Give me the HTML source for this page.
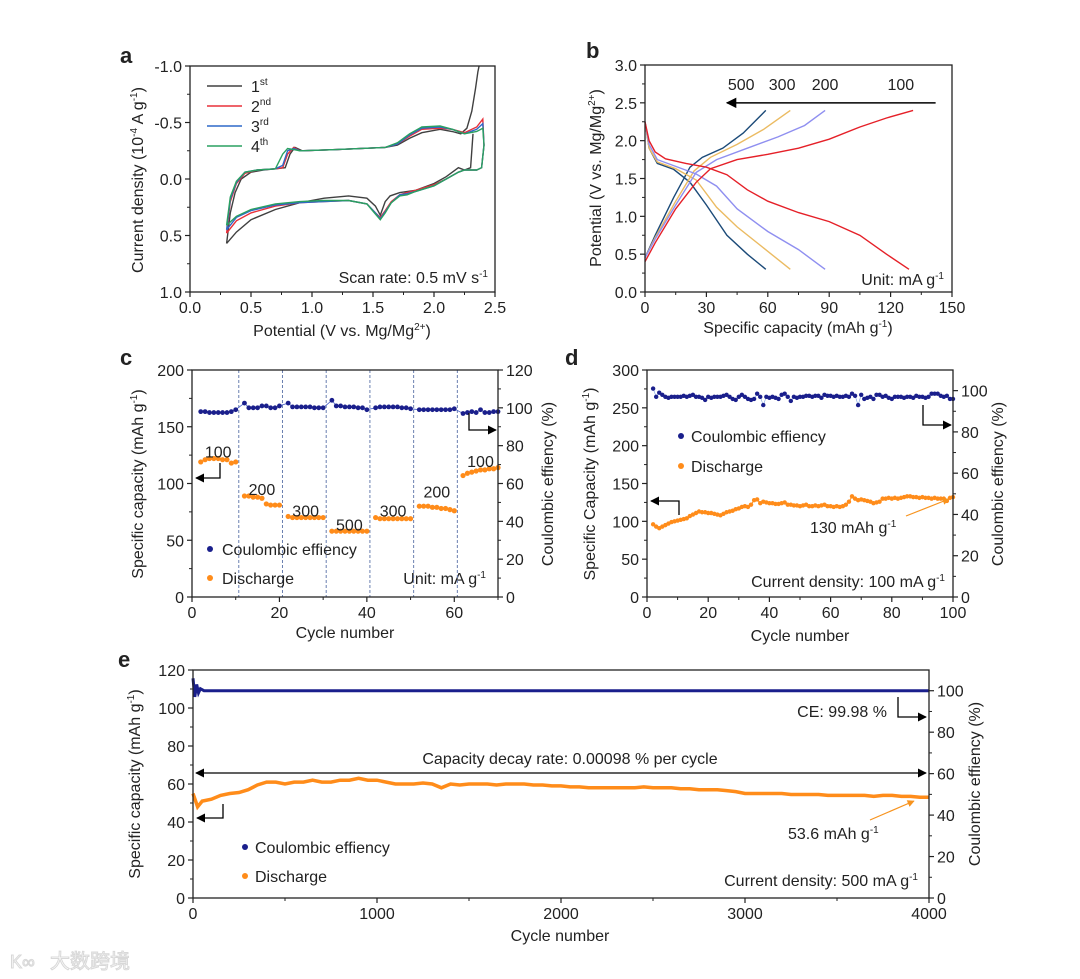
<!DOCTYPE html>
<html><head><meta charset="utf-8"><style>
html,body{margin:0;padding:0;background:#fff;}
svg{display:block;font-family:"Liberation Sans","Noto Sans CJK SC",sans-serif;}
</style></head><body>
<svg id="fig" width="1080" height="979" viewBox="0 0 1080 979" xmlns="http://www.w3.org/2000/svg">
<defs>
<marker id="ah" viewBox="0 0 10 10" refX="9" refY="5" markerWidth="7" markerHeight="7" orient="auto-start-reverse"><path d="M0,0L10,5L0,10z" fill="#000"/></marker>
<marker id="ahO" viewBox="0 0 10 10" refX="9" refY="5" markerWidth="6" markerHeight="6" orient="auto"><path d="M0,0L10,5L0,10z" fill="#f7931e"/></marker>
</defs>
<g id="static" font-size="16" fill="#222">
<text x="120" y="63" font-size="22" font-weight="bold">a</text>
<text x="586" y="58" font-size="22" font-weight="bold">b</text>
<text x="120" y="365" font-size="22" font-weight="bold">c</text>
<text x="565" y="365" font-size="22" font-weight="bold">d</text>
<text x="118" y="667" font-size="22" font-weight="bold">e</text>

<text x="342" y="336" text-anchor="middle">Potential (V vs. Mg/Mg<tspan font-size="10" dy="-6">2+</tspan><tspan dy="6">)</tspan></text>
<text transform="translate(143,180) rotate(-90)" text-anchor="middle">Current density (10<tspan font-size="10" dy="-6">-4</tspan><tspan dy="6"> A g</tspan><tspan font-size="10" dy="-6">-1</tspan><tspan dy="6">)</tspan></text>
<text x="488" y="283" text-anchor="end">Scan rate: 0.5 mV s<tspan font-size="10" dy="-6">-1</tspan></text>

<text x="798" y="333" text-anchor="middle">Specific capacity (mAh g<tspan font-size="10" dy="-6">-1</tspan><tspan dy="6">)</tspan></text>
<text transform="translate(601,178) rotate(-90)" text-anchor="middle">Potential (V vs. Mg/Mg<tspan font-size="10" dy="-6">2+</tspan><tspan dy="6">)</tspan></text>
<text x="944" y="285" text-anchor="end">Unit: mA g<tspan font-size="10" dy="-6">-1</tspan></text>

<text x="345" y="638" text-anchor="middle">Cycle number</text>
<text transform="translate(143,484) rotate(-90)" text-anchor="middle">Specific capacity (mAh g<tspan font-size="10" dy="-6">-1</tspan><tspan dy="6">)</tspan></text>
<text transform="translate(553,484) rotate(-90)" text-anchor="middle">Coulombic effiency (%)</text>
<text x="486" y="584" text-anchor="end">Unit: mA g<tspan font-size="10" dy="-6">-1</tspan></text>

<text x="800" y="641" text-anchor="middle">Cycle number</text>
<text transform="translate(595,484) rotate(-90)" text-anchor="middle">Specific Capacity (mAh g<tspan font-size="10" dy="-6">-1</tspan><tspan dy="6">)</tspan></text>
<text transform="translate(1003,484) rotate(-90)" text-anchor="middle">Coulombic effiency (%)</text>
<text x="945" y="587" text-anchor="end">Current density: 100 mA g<tspan font-size="10" dy="-6">-1</tspan></text>
<text x="810" y="533">130 mAh g<tspan font-size="10" dy="-6">-1</tspan></text>

<text x="560" y="941" text-anchor="middle">Cycle number</text>
<text transform="translate(140,784) rotate(-90)" text-anchor="middle">Specific capacity (mAh g<tspan font-size="10" dy="-6">-1</tspan><tspan dy="6">)</tspan></text>
<text transform="translate(980,784) rotate(-90)" text-anchor="middle">Coulombic effiency (%)</text>
<text x="570" y="764" text-anchor="middle">Capacity decay rate: 0.00098 % per cycle</text>
<text x="887" y="717" text-anchor="end">CE: 99.98 %</text>
<text x="788" y="839">53.6 mAh g<tspan font-size="10" dy="-6">-1</tspan></text>
<text x="918" y="886" text-anchor="end">Current density: 500 mA g<tspan font-size="10" dy="-6">-1</tspan></text>

<text x="50" y="968" font-size="20" fill="#fff" stroke="#d8d8d8" stroke-width="1">大数跨境</text>
<text x="10" y="968" font-size="18" fill="#fff" stroke="#d8d8d8" stroke-width="1">K∞</text>
</g>
<g id="dyn"></g>
</svg>
<script>
// ---------- data ----------
// panel a (V, current 1e-4 A/g)
const aCycle1V=[0.3,0.33,0.37,0.42,0.5,0.6,0.7,0.78,0.82,0.86,0.92,1.2,1.6,1.7,1.8,1.9,2.05,2.15,2.22,2.27,2.31,2.34,2.36,2.37];
const aCycle1I=[0.57,0.3,0.12,0.0,-0.06,-0.08,-0.09,-0.1,-0.22,-0.28,-0.25,-0.26,-0.28,-0.3,-0.36,-0.41,-0.44,-0.42,-0.4,-0.45,-0.6,-0.8,-0.95,-1.0];
const aCycle1RetV=[2.32,2.3,2.25,2.2,2.1,2.0,1.85,1.72,1.64,1.6,1.56,1.52,1.45,1.3,1.1,0.9,0.7,0.5,0.38,0.3];
const aCycle1RetI=[-0.4,-0.1,-0.08,-0.1,-0.02,0.04,0.1,0.12,0.15,0.2,0.32,0.24,0.17,0.15,0.17,0.21,0.27,0.36,0.47,0.57];
const aCycleNV=[0.3,0.33,0.38,0.45,0.55,0.7,0.76,0.8,0.85,0.9,1.2,1.6,1.7,1.8,1.9,2.05,2.15,2.25,2.35,2.4,2.41,2.39,2.35,2.25,2.2,2.1,2.0,1.85,1.78,1.72,1.65,1.6,1.56,1.52,1.45,1.3,1.1,0.9,0.7,0.5,0.38,0.3];
const aCycle2I=[0.48,0.2,0.04,-0.05,-0.08,-0.09,-0.1,-0.22,-0.28,-0.25,-0.26,-0.28,-0.31,-0.38,-0.44,-0.45,-0.44,-0.41,-0.46,-0.53,-0.3,-0.1,-0.08,-0.08,-0.06,0.0,0.05,0.1,0.12,0.14,0.2,0.28,0.34,0.3,0.22,0.19,0.2,0.21,0.24,0.3,0.37,0.48];
const aCycle3I=[0.45,0.18,0.03,-0.06,-0.08,-0.09,-0.12,-0.25,-0.27,-0.25,-0.26,-0.28,-0.31,-0.39,-0.45,-0.46,-0.44,-0.4,-0.44,-0.49,-0.3,-0.1,-0.08,-0.08,-0.06,0.0,0.06,0.11,0.13,0.14,0.21,0.29,0.35,0.3,0.22,0.19,0.2,0.21,0.23,0.28,0.34,0.45];
const aCycle4I=[0.41,0.16,0.02,-0.06,-0.08,-0.09,-0.22,-0.27,-0.26,-0.25,-0.26,-0.28,-0.32,-0.4,-0.46,-0.47,-0.44,-0.4,-0.42,-0.45,-0.3,-0.1,-0.08,-0.08,-0.06,0.0,0.06,0.11,0.14,0.15,0.21,0.3,0.36,0.31,0.22,0.19,0.19,0.2,0.22,0.27,0.33,0.41];
const aLegend=["1","2","3","4"];
const aLegendSup=["st","nd","rd","th"];

// panel b
const bRates=["500","300","200","100"];
const bDisQ=[[0,2,6,14,22,30,40,50,59],[0,2,6,15,25,35,45,58,71],[0,2,6,15,25,35,45,60,75,88],[0,2,5,10,20,30,40,50,60,75,90,105,118,129]];
const bDisV=[[2.25,1.9,1.7,1.62,1.45,1.15,0.75,0.5,0.3],[2.25,1.9,1.72,1.63,1.48,1.12,0.86,0.58,0.3],[2.25,1.95,1.75,1.66,1.56,1.4,1.1,0.8,0.56,0.3],[2.25,2.0,1.85,1.76,1.7,1.65,1.55,1.35,1.2,1.05,0.93,0.75,0.5,0.3]];
const bChgQ=[[0,5,14,22,28,38,48,59],[0,5,15,24,32,45,58,71],[0,5,15,25,35,50,65,78,88],[0,5,15,25,32,45,60,75,90,105,118,131]];
const bChgV=[[0.45,0.75,1.25,1.65,1.78,1.9,2.1,2.4],[0.45,0.72,1.2,1.6,1.78,1.95,2.15,2.4],[0.45,0.7,1.15,1.58,1.75,1.9,2.05,2.2,2.4],[0.4,0.65,1.1,1.45,1.63,1.75,1.82,1.9,2.02,2.18,2.3,2.4]];
const bLabelQ=[47,67,88,125];

// panel c
const cCycles=[2,3,4,5,6,7,8,9,10,12,13,14,15,16,17,18,19,20,22,23,24,25,26,27,28,29,30,32,33,34,35,36,37,38,39,40,42,43,44,45,46,47,48,49,50,52,53,54,55,56,57,58,59,60,62,63,64,65,66,67,68,69,70];
const cDischarge=[119,121,122,122,122,121,121,118,119,89,89,88,88,87,82,81,81,81,71,70,70,70,70,70,70,70,70,58,58,58,58,58,58,58,58,58,70,69,69,69,69,69,69,69,69,80,80,80,79,79,78,78,77,76,107,109,110,111,112,112,113,113,114];
const cCE=[98,98,97.5,97.5,97.5,97.5,97.5,98,99,102.5,100,100,100,101,101,100,100,101,102.5,100.5,100.5,100.5,100.5,100.5,100,100,100,104,101,101,100.5,100.5,100.5,100,100,99,100,100.5,100.5,100.5,100.5,100.5,100,100,99.5,99,99,99,99,99,99,99,99,99.5,97,97.5,98,97.5,99,97.5,97.5,98,98];
const cRateLabels=["100","200","300","500","300","200","100"];
const cRateX=[6,16,26,36,46,56,66];
const cRateY=[128,95,76,64,76,93,120];

// panel d
const dCycles=[2,3,4,5,6,7,8,9,10,11,12,13,14,15,16,17,18,19,20,21,22,23,24,25,26,27,28,29,30,31,32,33,34,35,36,37,38,39,40,41,42,43,44,45,46,47,48,49,50,51,52,53,54,55,56,57,58,59,60,61,62,63,64,65,66,67,68,69,70,71,72,73,74,75,76,77,78,79,80,81,82,83,84,85,86,87,88,89,90,91,92,93,94,95,96,97,98,99,100];
const dDischarge=[96,93,91,93,95,97,99,100,101,102,103,104,107,109,111,113,112,112,111,111,110,109,108,110,112,113,114,116,117,119,120,119,122,128,129,124,126,125,124,124,123,123,124,125,122,122,121,121,120,121,122,120,120,121,120,121,122,120,120,119,120,119,120,122,126,133,130,128,129,128,127,126,124,125,126,130,130,131,130,131,130,131,132,133,133,132,132,131,132,131,131,130,131,130,130,130,127,131,132];
const dCE=[101,97,99,98,97,96.5,97,97,97,97,97.5,97,97.5,98,97,97,96.5,95.5,97,96.5,97,97,97,97.5,98,97,96,95.5,97,98,97,96,95.5,96,98.5,97,93,97,96.5,97,96.5,96,98,98.5,97,95,97,96.5,97,97,97.5,97.5,97,97.5,97.5,96.5,98,97.5,97.5,97,97.5,97,97,97.5,97,98.5,97.5,93,98,96,96.5,97,96,98,98,97,97.5,96.5,96,97,97,97,96.5,97,97,96.5,97.5,97,97,96.5,97,98.5,98.5,98.5,97.5,97,97.5,96,96];

// panel e
const eCycles=[0,25,50,100,150,200,250,300,350,400,450,500,550,600,650,700,750,800,850,900,950,1000,1050,1100,1150,1200,1250,1300,1350,1400,1450,1500,1550,1600,1650,1700,1750,1800,1850,1900,1950,2000,2050,2100,2150,2200,2250,2300,2350,2400,2450,2500,2550,2600,2650,2700,2750,2800,2850,2900,2950,3000,3050,3100,3150,3200,3250,3300,3350,3400,3450,3500,3550,3600,3650,3700,3750,3800,3850,3900,3950,4000];
const eDischarge=[55,48,51,52,54,55,55.5,57,59.5,61,61,60,61,61,62,61,61,62,62,63,62,62,61,60,60,60,60.5,60,58,60,59.5,60,60,60,59.5,60,60,60,59.5,59.5,59,59,58.5,58.5,58,58,58,58,58,58,58.5,58,58,58,57.5,57.5,57,57,57,56.5,56,55,55,55,55,55,54.5,54.5,54.5,54.5,54,54,54,54,54,53.5,54,54,53.5,53.5,53,53];
const eCECycles=[0,10,20,30,40,60,100,200,500,1000,1500,2000,2500,3000,3500,4000];
const eCE=[106,97,103,99,101,100,100,100,100,100,100,100,100,100,100,100];

// ---------- helpers ----------
const NS="http://www.w3.org/2000/svg";
const dyn=document.getElementById("dyn");
function mk(tag,attrs,name,parent){
  const e=document.createElementNS(NS,tag);
  for(const k in attrs)e.setAttribute(k,attrs[k]);
  
  
  (parent||dyn).appendChild(e);
  return e;
}
function lin(d0,d1,r0,r1){return v=>r0+(v-d0)/(d1-d0)*(r1-r0);}
function frame(b,name,rightAxis){
  mk("rect",{x:b.l,y:b.t,width:b.r-b.l,height:b.b-b.t,fill:"none",stroke:"#222","stroke-width":1.3},name+"-frame");
}
function xticks(b,sx,vals,labels,minor,name){
  vals.forEach((v,i)=>{
    mk("line",{x1:sx(v),x2:sx(v),y1:b.b,y2:b.b+5,stroke:"#222","stroke-width":1.2},name+"-xtick");
    const t=mk("text",{x:sx(v),y:b.b+21,"text-anchor":"middle","font-size":16,fill:"#222"},name+"-xtick-label");
    t.textContent=labels[i];
  });
  minor.forEach(v=>mk("line",{x1:sx(v),x2:sx(v),y1:b.b,y2:b.b+3,stroke:"#222","stroke-width":1},name+"-xminor"));
}
function yticks(b,sy,vals,labels,minor,name,right){
  const x=right?b.r:b.l, d=right?1:-1;
  vals.forEach((v,i)=>{
    mk("line",{x1:x,x2:x+5*d,y1:sy(v),y2:sy(v),stroke:"#222","stroke-width":1.2},name+"-ytick");
    const t=mk("text",{x:x+8*d,y:sy(v)+6,"text-anchor":right?"start":"end","font-size":16,fill:"#222"},name+"-ytick-label");
    t.textContent=labels[i];
  });
  minor.forEach(v=>mk("line",{x1:x,x2:x+3*d,y1:sy(v),y2:sy(v),stroke:"#222","stroke-width":1},name+"-yminor"));
}
function poly(xs,ys,sx,sy,attrs,name){
  const pts=xs.map((x,i)=>sx(x).toFixed(1)+","+sy(ys[i]).toFixed(1)).join(" ");
  attrs.points=pts;attrs.fill="none";
  return mk("polyline",attrs,name);
}
function dots(xs,ys,sx,sy,r,fill,name){
  xs.forEach((x,i)=>mk("circle",{cx:sx(x),cy:sy(ys[i]),r:r,fill:fill},name));
}
function path(d,attrs,name){attrs.d=d;attrs.fill=attrs.fill||"none";return mk("path",attrs,name);}
function txt(x,y,s,attrs,name){attrs.x=x;attrs.y=y;attrs["font-size"]=attrs["font-size"]||16;attrs.fill=attrs.fill||"#222";const t=mk("text",attrs,name);t.textContent=s;return t;}

// ---------- panel a ----------
(function(){
  const b={l:190,r:495,t:66,b:292};
  const sx=lin(0,2.5,b.l,b.r), sy=lin(-1,1,b.t,b.b);
  const cols=["#404040","#e8303a","#2f68c8","#2aa060"];
  poly(aCycle1V,aCycle1I,sx,sy,{stroke:cols[0],"stroke-width":1.4},"a-cycle1-forward");
  poly(aCycle1RetV,aCycle1RetI,sx,sy,{stroke:cols[0],"stroke-width":1.4},"a-cycle1-reverse");
  poly(aCycleNV,aCycle2I,sx,sy,{stroke:cols[1],"stroke-width":1.4},"a-cycle2");
  poly(aCycleNV,aCycle3I,sx,sy,{stroke:cols[2],"stroke-width":1.4},"a-cycle3");
  poly(aCycleNV,aCycle4I,sx,sy,{stroke:cols[3],"stroke-width":1.4},"a-cycle4");
  frame(b,"a");
  xticks(b,sx,[0,0.5,1,1.5,2,2.5],["0.0","0.5","1.0","1.5","2.0","2.5"],[0.25,0.75,1.25,1.75,2.25],"a");
  yticks(b,sy,[-1,-0.5,0,0.5,1],["-1.0","-0.5","0.0","0.5","1.0"],[-0.75,-0.25,0.25,0.75],"a");
  aLegend.forEach((s,i)=>{
    const y=86+i*20;
    mk("line",{x1:207,x2:242,y1:y,y2:y,stroke:cols[i],"stroke-width":1.5},"a-legend-line");
    const t=txt(251,y+6,s,{},"a-legend-label");
    const sp=document.createElementNS(NS,"tspan");sp.setAttribute("font-size","10");sp.setAttribute("dy","-7");sp.textContent=aLegendSup[i];t.appendChild(sp);
  });
})();

// ---------- panel b ----------
(function(){
  const b={l:645,r:952,t:65,b:292};
  const sx=lin(0,150,b.l,b.r), sy=lin(0,3,b.b,b.t);
  const cols=["#1b4a78","#ebbb62","#8f8ff0","#e52028"];
  bRates.forEach((r,i)=>{
    poly(bDisQ[i],bDisV[i],sx,sy,{stroke:cols[i],"stroke-width":1.4},"b-discharge-"+r);
    poly(bChgQ[i],bChgV[i],sx,sy,{stroke:cols[i],"stroke-width":1.4},"b-charge-"+r);
    txt(sx(bLabelQ[i]),sy(2.75)+6,r,{"text-anchor":"middle"},"b-rate-label");
  });
  mk("line",{x1:sx(142),x2:sx(40),y1:sy(2.5),y2:sy(2.5),stroke:"#000","stroke-width":1.5,"marker-end":"url(#ah)"},"b-rate-arrow");
  frame(b,"b");
  xticks(b,sx,[0,30,60,90,120,150],["0","30","60","90","120","150"],[15,45,75,105,135],"b");
  yticks(b,sy,[0,0.5,1,1.5,2,2.5,3],["0.0","0.5","1.0","1.5","2.0","2.5","3.0"],[0.25,0.75,1.25,1.75,2.25,2.75],"b");
})();

// ---------- panel c ----------
(function(){
  const b={l:192,r:498,t:370,b:597};
  const sx=lin(0,70,b.l,b.r), sy=lin(0,200,b.b,b.t), sy2=lin(0,120,b.b,b.t);
  [10.7,20.7,30.7,40.7,50.7,60.7].forEach(v=>mk("line",{x1:sx(v),x2:sx(v),y1:b.t,y2:b.b,stroke:"#6a7fb0","stroke-width":1,"stroke-dasharray":"3,2"},"c-rate-divider"));
  poly(cCycles,cCE,sx,sy2,{stroke:"#4a62c8","stroke-width":0.8},"c-ce-line");
  dots(cCycles,cCE,sx,sy2,2.4,"#1a1f8c","c-ce-point");
  dots(cCycles,cDischarge,sx,sy,2.6,"#ff8c1a","c-discharge-point");
  cRateLabels.forEach((s,i)=>txt(sx(cRateX[i]),sy(cRateY[i])+6,s,{"text-anchor":"middle"},"c-rate-label"));
  path("M220,463 V478 H196",{stroke:"#000","stroke-width":1.3,"marker-end":"url(#ah)"},"c-left-axis-arrow");
  path("M469,413 V430 H496",{stroke:"#000","stroke-width":1.3,"marker-end":"url(#ah)"},"c-right-axis-arrow");
  mk("circle",{cx:210,cy:549,r:3,fill:"#1a1f8c"},"c-legend-ce-marker");
  txt(222,555,"Coulombic effiency",{},"c-legend-ce");
  mk("circle",{cx:210,cy:578,r:3,fill:"#ff8c1a"},"c-legend-discharge-marker");
  txt(222,584,"Discharge",{},"c-legend-discharge");
  frame(b,"c");
  xticks(b,sx,[0,20,40,60],["0","20","40","60"],[10,30,50,70],"c");
  yticks(b,sy,[0,50,100,150,200],["0","50","100","150","200"],[25,75,125,175],"c");
  yticks(b,sy2,[0,20,40,60,80,100,120],["0","20","40","60","80","100","120"],[10,30,50,70,90,110],"c",true);
})();

// ---------- panel d ----------
(function(){
  const b={l:647,r:953,t:370,b:597};
  const sx=lin(0,100,b.l,b.r), sy=lin(0,300,b.b,b.t), sy2=lin(0,110,b.b,b.t);
  poly(dCycles,dCE,sx,sy2,{stroke:"#7aa0e0","stroke-width":0.6},"d-ce-line");
  dots(dCycles,dCE,sx,sy2,2.2,"#1a1f8c","d-ce-point");
  poly(dCycles,dDischarge,sx,sy,{stroke:"#ff8c1a","stroke-width":1},"d-discharge-line");
  dots(dCycles,dDischarge,sx,sy,2.2,"#ff8c1a","d-discharge-point");
  path("M679,515 V501 H651",{stroke:"#000","stroke-width":1.3,"marker-end":"url(#ah)"},"d-left-axis-arrow");
  path("M923,405 V425 H951",{stroke:"#000","stroke-width":1.3,"marker-end":"url(#ah)"},"d-right-axis-arrow");
  mk("line",{x1:906,y1:516,x2:949,y2:499,stroke:"#f7931e","stroke-width":1.2,"marker-end":"url(#ahO)"},"d-capacity-pointer");
  mk("circle",{cx:681,cy:436,r:3,fill:"#1a1f8c"},"d-legend-ce-marker");
  txt(691,442,"Coulombic effiency",{},"d-legend-ce");
  mk("circle",{cx:681,cy:466,r:3,fill:"#ff8c1a"},"d-legend-discharge-marker");
  txt(691,472,"Discharge",{},"d-legend-discharge");
  frame(b,"d");
  xticks(b,sx,[0,20,40,60,80,100],["0","20","40","60","80","100"],[10,30,50,70,90],"d");
  yticks(b,sy,[0,50,100,150,200,250,300],["0","50","100","150","200","250","300"],[25,75,125,175,225,275],"d");
  yticks(b,sy2,[0,20,40,60,80,100],["0","20","40","60","80","100"],[10,30,50,70,90],"d",true);
})();

// ---------- panel e ----------
(function(){
  const b={l:193,r:929,t:670,b:898};
  const sx=lin(0,4000,b.l,b.r), sy=lin(0,120,b.b,b.t), sy2=lin(0,110,b.b,b.t);
  poly(eCECycles,eCE,sx,sy2,{stroke:"#1a1f8c","stroke-width":3},"e-ce-line");
  poly(eCycles,eDischarge,sx,sy,{stroke:"#ff8c1a","stroke-width":3.5},"e-discharge-line");
  mk("line",{x1:196,x2:926,y1:773,y2:773,stroke:"#000","stroke-width":1.3,"marker-start":"url(#ah)","marker-end":"url(#ah)"},"e-decay-arrow");
  path("M223,804 V818 H197",{stroke:"#000","stroke-width":1.3,"marker-end":"url(#ah)"},"e-left-axis-arrow");
  path("M898,697 V717 H926",{stroke:"#000","stroke-width":1.3,"marker-end":"url(#ah)"},"e-right-axis-arrow");
  mk("line",{x1:870,y1:820,x2:914,y2:801,stroke:"#f7931e","stroke-width":1.2,"marker-end":"url(#ahO)"},"e-capacity-pointer");
  mk("circle",{cx:245,cy:847,r:3,fill:"#1a1f8c"},"e-legend-ce-marker");
  txt(255,853,"Coulombic effiency",{},"e-legend-ce");
  mk("circle",{cx:245,cy:876,r:3,fill:"#ff8c1a"},"e-legend-discharge-marker");
  txt(255,882,"Discharge",{},"e-legend-discharge");
  frame(b,"e");
  xticks(b,sx,[0,1000,2000,3000,4000],["0","1000","2000","3000","4000"],[500,1500,2500,3500],"e");
  yticks(b,sy,[0,20,40,60,80,100,120],["0","20","40","60","80","100","120"],[10,30,50,70,90,110],"e");
  yticks(b,sy2,[0,20,40,60,80,100],["0","20","40","60","80","100"],[10,30,50,70,90],"e",true);
})();
</script>
</body></html>
